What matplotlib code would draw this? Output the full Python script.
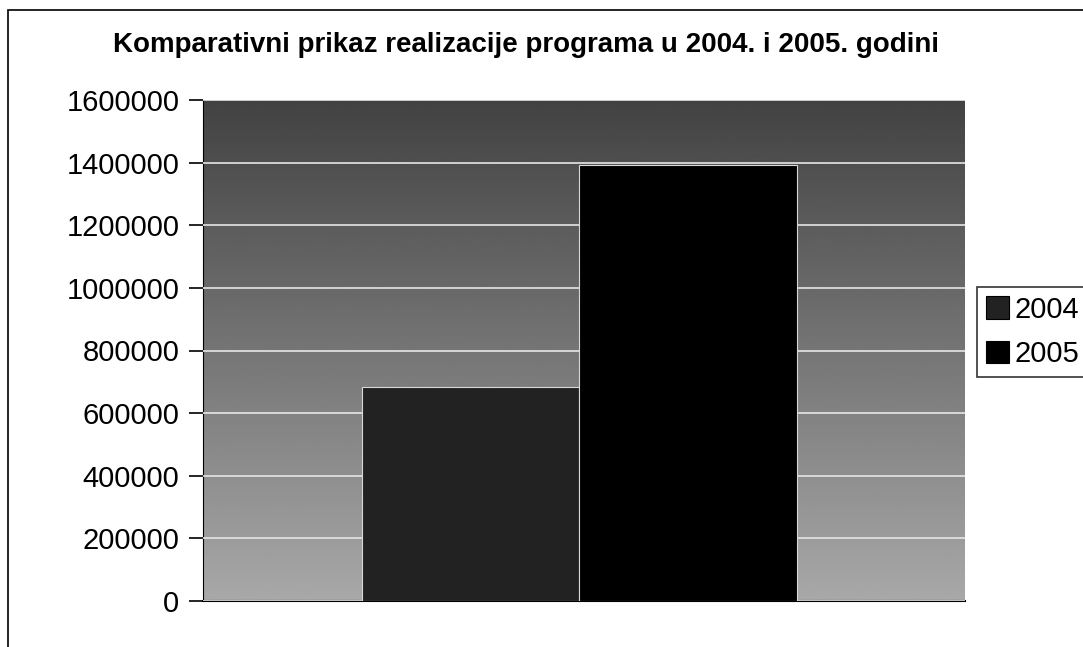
import numpy as np
import matplotlib.pyplot as plt
from matplotlib.patches import Rectangle

plt.rcParams["font.family"] = ["Liberation Sans", "DejaVu Sans"]

TITLE = "Komparativni prikaz realizacije programa u 2004. i 2005. godini"
series = ["2004", "2005"]
values = [683000, 1392000]
colors = ["#222222", "#000000"]
yticks = [0, 200000, 400000, 600000, 800000, 1000000, 1200000, 1400000, 1600000]

W, H = 1083, 647
fig = plt.figure(figsize=(W / 100, H / 100), dpi=100)
fig.patch.set_facecolor("white")

# outer chart frame (scanned page, cut off at right and bottom)
fig.add_artist(Rectangle((8 / W, -0.02), 1.1, 1 - 10 / H + 0.02,
                         transform=fig.transFigure, fill=False,
                         edgecolor="black", lw=1.2))

ax = fig.add_axes([203 / W, 1 - 601 / H, (965 - 203) / W, (601 - 100) / H])

# gradient plot area, dark at top, lighter at bottom
grad = np.linspace(0.66, 0.26, 256).reshape(-1, 1)
ax.imshow(grad, extent=[-0.5, 0.5, 0, 1600000], aspect="auto",
          cmap="gray", vmin=0, vmax=1, zorder=0, origin="lower")

width = 0.285
center = -0.006
offsets = [center - width / 2, center + width / 2]
for off, v, c, s in zip(offsets, values, colors, series):
    ax.bar(off, v, width=width, color=c, edgecolor="#d8d8d8", lw=0.8,
           label=s, zorder=3)

ax.set_xlim(-0.5, 0.5)
ax.set_ylim(0, 1600000)
ax.set_yticks(yticks)
ax.set_yticklabels([str(t) for t in yticks], fontsize=21)
ax.set_xticks([])
ax.yaxis.grid(True, color="#e6e6e6", lw=1.2, zorder=1)
ax.set_axisbelow(False)
for sp in ["top", "right"]:
    ax.spines[sp].set_visible(False)
ax.spines["left"].set_color("black")
ax.spines["bottom"].set_color("black")
ax.spines["bottom"].set_linewidth(1.5)
ax.tick_params(axis="y", length=10, width=1.2, pad=7, direction="out")

fig.text(526 / W, 1 - 45 / H, TITLE, ha="center", va="center",
         fontsize=20, fontweight="bold")

leg = fig.legend(loc="upper left", bbox_to_anchor=(977 / W, 1 - 287 / H),
                 fontsize=21, frameon=True, fancybox=False,
                 handlelength=0.8, handleheight=0.8, handletextpad=0.2,
                 borderpad=0.3, labelspacing=0.55, borderaxespad=0)
leg.get_frame().set_edgecolor("black")
leg.get_frame().set_linewidth(1.2)
for h in leg.legend_handles:
    h.set_edgecolor("black")

fig.savefig("out.png", dpi=100)
